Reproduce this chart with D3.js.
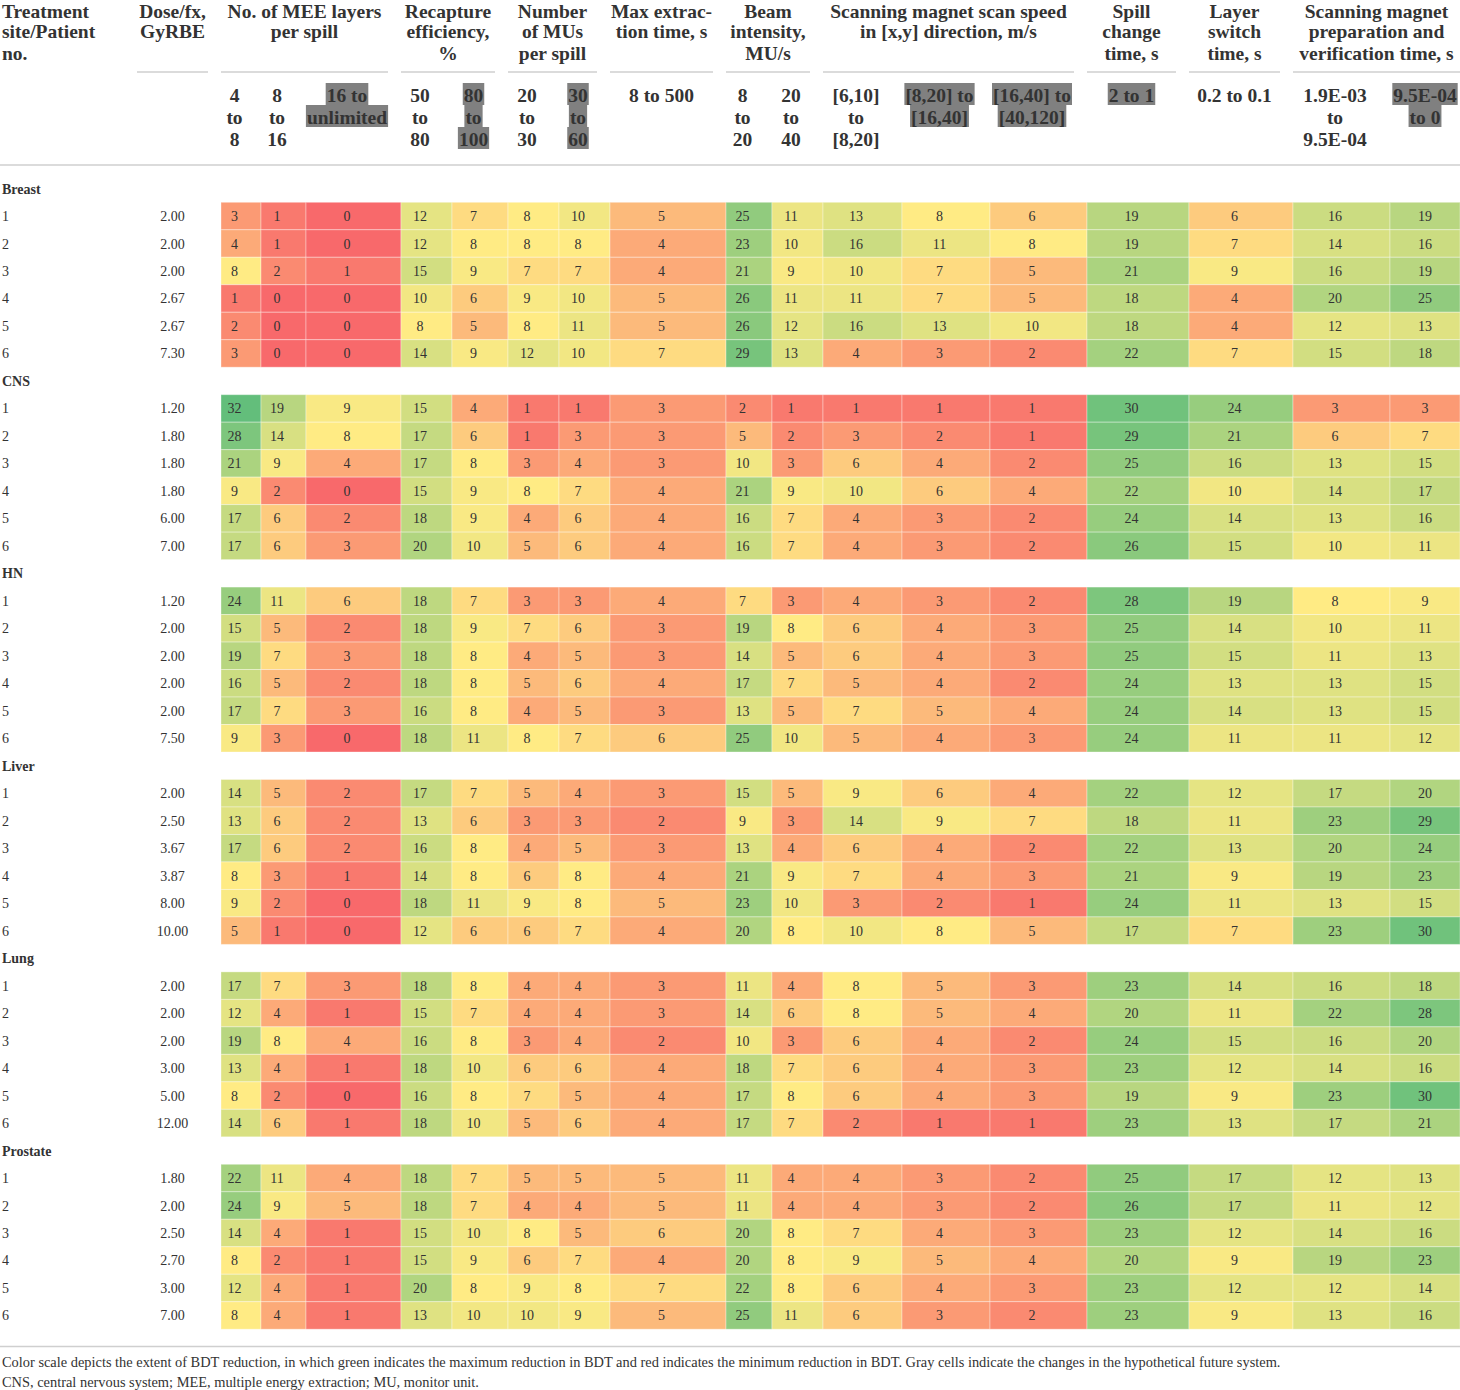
<!DOCTYPE html>
<html>
<head>
<meta charset="utf-8">
<script src="https://cdnjs.cloudflare.com/ajax/libs/d3/7.8.5/d3.min.js"></script>
<style>
body { margin: 0; background: #fff; }
svg text { font-family: "Liberation Serif", "DejaVu Serif", serif; }
</style>
</head>
<body>
<script>
// ---- data ----
const groups = ["Breast", "CNS", "HN", "Liver", "Lung", "Prostate"];
const patients = ["1", "2", "3", "4", "5", "6"];

const colKeys = ["mee1", "mee2", "mee3", "rec1", "rec2", "mu1", "mu2", "ext", "beam1", "beam2",
                 "scan1", "scan2", "scan3", "spill", "layer", "mag1", "mag2"];

const doseBreast   = ["2.00", "2.00", "2.00", "2.67", "2.67", "7.30"];
const doseCNS      = ["1.20", "1.80", "1.80", "1.80", "6.00", "7.00"];
const doseHN       = ["1.20", "2.00", "2.00", "2.00", "2.00", "7.50"];
const doseLiver    = ["2.00", "2.50", "3.67", "3.87", "8.00", "10.00"];
const doseLung     = ["2.00", "2.00", "2.00", "3.00", "5.00", "12.00"];
const doseProstate = ["1.80", "2.00", "2.50", "2.70", "3.00", "7.00"];

const breast = [
  [3, 1, 0, 12, 7, 8, 10, 5, 25, 11, 13, 8, 6, 19, 6, 16, 19],
  [4, 1, 0, 12, 8, 8, 8, 4, 23, 10, 16, 11, 8, 19, 7, 14, 16],
  [8, 2, 1, 15, 9, 7, 7, 4, 21, 9, 10, 7, 5, 21, 9, 16, 19],
  [1, 0, 0, 10, 6, 9, 10, 5, 26, 11, 11, 7, 5, 18, 4, 20, 25],
  [2, 0, 0, 8, 5, 8, 11, 5, 26, 12, 16, 13, 10, 18, 4, 12, 13],
  [3, 0, 0, 14, 9, 12, 10, 7, 29, 13, 4, 3, 2, 22, 7, 15, 18]
];
const cns = [
  [32, 19, 9, 15, 4, 1, 1, 3, 2, 1, 1, 1, 1, 30, 24, 3, 3],
  [28, 14, 8, 17, 6, 1, 3, 3, 5, 2, 3, 2, 1, 29, 21, 6, 7],
  [21, 9, 4, 17, 8, 3, 4, 3, 10, 3, 6, 4, 2, 25, 16, 13, 15],
  [9, 2, 0, 15, 9, 8, 7, 4, 21, 9, 10, 6, 4, 22, 10, 14, 17],
  [17, 6, 2, 18, 9, 4, 6, 4, 16, 7, 4, 3, 2, 24, 14, 13, 16],
  [17, 6, 3, 20, 10, 5, 6, 4, 16, 7, 4, 3, 2, 26, 15, 10, 11]
];
const hn = [
  [24, 11, 6, 18, 7, 3, 3, 4, 7, 3, 4, 3, 2, 28, 19, 8, 9],
  [15, 5, 2, 18, 9, 7, 6, 3, 19, 8, 6, 4, 3, 25, 14, 10, 11],
  [19, 7, 3, 18, 8, 4, 5, 3, 14, 5, 6, 4, 3, 25, 15, 11, 13],
  [16, 5, 2, 18, 8, 5, 6, 4, 17, 7, 5, 4, 2, 24, 13, 13, 15],
  [17, 7, 3, 16, 8, 4, 5, 3, 13, 5, 7, 5, 4, 24, 14, 13, 15],
  [9, 3, 0, 18, 11, 8, 7, 6, 25, 10, 5, 4, 3, 24, 11, 11, 12]
];
const liver = [
  [14, 5, 2, 17, 7, 5, 4, 3, 15, 5, 9, 6, 4, 22, 12, 17, 20],
  [13, 6, 2, 13, 6, 3, 3, 2, 9, 3, 14, 9, 7, 18, 11, 23, 29],
  [17, 6, 2, 16, 8, 4, 5, 3, 13, 4, 6, 4, 2, 22, 13, 20, 24],
  [8, 3, 1, 14, 8, 6, 8, 4, 21, 9, 7, 4, 3, 21, 9, 19, 23],
  [9, 2, 0, 18, 11, 9, 8, 5, 23, 10, 3, 2, 1, 24, 11, 13, 15],
  [5, 1, 0, 12, 6, 6, 7, 4, 20, 8, 10, 8, 5, 17, 7, 23, 30]
];
const lung = [
  [17, 7, 3, 18, 8, 4, 4, 3, 11, 4, 8, 5, 3, 23, 14, 16, 18],
  [12, 4, 1, 15, 7, 4, 4, 3, 14, 6, 8, 5, 4, 20, 11, 22, 28],
  [19, 8, 4, 16, 8, 3, 4, 2, 10, 3, 6, 4, 2, 24, 15, 16, 20],
  [13, 4, 1, 18, 10, 6, 6, 4, 18, 7, 6, 4, 3, 23, 12, 14, 16],
  [8, 2, 0, 16, 8, 7, 5, 4, 17, 8, 6, 4, 3, 19, 9, 23, 30],
  [14, 6, 1, 18, 10, 5, 6, 4, 17, 7, 2, 1, 1, 23, 13, 17, 21]
];
const prostate = [
  [22, 11, 4, 18, 7, 5, 5, 5, 11, 4, 4, 3, 2, 25, 17, 12, 13],
  [24, 9, 5, 18, 7, 4, 4, 5, 11, 4, 4, 3, 2, 26, 17, 11, 12],
  [14, 4, 1, 15, 10, 8, 5, 6, 20, 8, 7, 4, 3, 23, 12, 14, 16],
  [8, 2, 1, 15, 9, 6, 7, 4, 20, 8, 9, 5, 4, 20, 9, 19, 23],
  [12, 4, 1, 20, 8, 9, 8, 7, 22, 8, 6, 4, 3, 23, 12, 12, 14],
  [8, 4, 1, 13, 10, 10, 9, 5, 25, 11, 6, 3, 2, 23, 9, 13, 16]
];

// header texts
const headGroupLines = [
  ["Dose/fx,", "GyRBE"],
  ["No. of MEE layers", "per spill"],
  ["Recapture", "efficiency,", "%"],
  ["Number", "of MUs", "per spill"],
  ["Max extrac-", "tion time, s"],
  ["Beam", "intensity,", "MU/s"],
  ["Scanning magnet scan speed", "in [x,y] direction, m/s"],
  ["Spill", "change", "time, s"],
  ["Layer", "switch", "time, s"],
  ["Scanning magnet", "preparation and", "verification time, s"]
];
const headGroupCols = [
  ["dose"], ["mee1", "mee3"], ["rec1", "rec2"], ["mu1", "mu2"], ["ext"], ["beam1", "beam2"],
  ["scan1", "scan3"], ["spill"], ["layer"], ["mag1", "mag2"]
];
const subLabels = [
  ["4", "to", "8"], ["8", "to", "16"], ["16 to", "unlimited"],
  ["50", "to", "80"], ["80", "to", "100"],
  ["20", "to", "30"], ["30", "to", "60"],
  ["8 to 500"],
  ["8", "to", "20"], ["20", "to", "40"],
  ["[6,10]", "to", "[8,20]"], ["[8,20] to", "[16,40]"], ["[16,40] to", "[40,120]"],
  ["2 to 1"], ["0.2 to 0.1"],
  ["1.9E-03", "to", "9.5E-04"], ["9.5E-04", "to 0"]
];
const subGray = ["mee3", "rec2", "mu2", "scan2", "scan3", "spill", "mag2"];

const footnotes = [
  "Color scale depicts the extent of BDT reduction, in which green indicates the maximum reduction in BDT and red indicates the minimum reduction in BDT. Gray cells indicate the changes in the hypothetical future system.",
  "CNS, central nervous system; MEE, multiple energy extraction; MU, monitor unit."
];

// ---- layout ----
const width = 1460, height = 1390;
const pad = 13;
const edges = [137, 221, 261, 306, 401, 452, 508, 559, 610, 726, 772, 823, 902, 990, 1087, 1189, 1293, 1390, 1460];
const headBase = [17.5, 38, 59.5];
const allCols = ["dose", ...colKeys];
const xLeft = d3.scaleOrdinal(allCols, edges.slice(0, -1));
const xRight = d3.scaleOrdinal(allCols, edges.slice(1));
const padOf = c => c === "mag2" ? 0 : pad;
const xMid = c => (xLeft(c) + xRight(c) - padOf(c)) / 2;

const tables = [breast, cns, hn, liver, lung, prostate];
const doses = [doseBreast, doseCNS, doseHN, doseLiver, doseLung, doseProstate];

const y = d3.scaleBand()
  .domain(d3.range(groups.length * 7))
  .range([174.8, 1329.2]);

const allVals = tables.flat(2);
const color = d3.scaleLinear()
  .domain([d3.min(allVals), d3.median(allVals), d3.max(allVals)])
  .range(["#F8696B", "#FFEB84", "#63BE7B"]);

const svg = d3.select('body')
  .append('svg')
  .attr('width', width)
  .attr('height', height);

// ---- header ----
const hdr = svg.append('g').attr('fill', '#333').attr('font-weight', 'bold').attr('font-size', '19.5px');

["Treatment", "site/Patient", "no."].forEach((t, i) => {
  hdr.append('text').attr('x', 2).attr('y', headBase[i]).text(t);
});

headGroupCols.forEach((cols, gi) => {
  const first = cols[0], last = cols[cols.length - 1];
  const x0 = xLeft(first), x1 = xRight(last) - padOf(last);
  headGroupLines[gi].forEach((t, i) => {
    hdr.append('text')
       .attr('x', (x0 + x1) / 2)
       .attr('y', headBase[i])
       .attr('text-anchor', 'middle')
       .text(t);
  });
  svg.append('line')
     .attr('x1', x0).attr('x2', x1)
     .attr('y1', 72).attr('y2', 72)
     .attr('stroke', '#cfcfcf').attr('stroke-width', 1.5);
});

colKeys.forEach((c, ci) => {
  const gray = subGray.includes(c);
  subLabels[ci].forEach((t, i) => {
    const g = hdr.append('g');
    const txt = g.append('text')
       .attr('x', xMid(c))
       .attr('y', 101.5 + i * 22)
       .attr('text-anchor', 'middle')
       .text(t);
    if (gray) {
      const w = txt.node().getComputedTextLength();
      g.insert('rect', 'text')
       .attr('x', xMid(c) - w / 2 - 1)
       .attr('y', 83 + i * 22)
       .attr('width', w + 2)
       .attr('height', 22)
       .attr('fill', '#808080');
    }
  });
});

svg.append('line')
   .attr('x1', 0).attr('x2', width)
   .attr('y1', 165).attr('y2', 165)
   .attr('stroke', '#cfcfcf').attr('stroke-width', 1.5);

// ---- body ----
const body = svg.append('g').attr('fill', '#333').attr('font-size', '14px');

groups.forEach((gname, gi) => {
  const base = gi * 7;
  body.append('text')
      .attr('x', 2)
      .attr('y', y(base) + y.bandwidth() / 2 + 5)
      .attr('font-weight', 'bold')
      .text(gname);

  tables[gi].forEach((row, ri) => {
    const yi = base + 1 + ri;
    const yc = y(yi) + y.bandwidth() / 2;
    body.append('text').attr('x', 2).attr('y', yc + 5).text(patients[ri]);
    body.append('text')
        .attr('x', xMid('dose'))
        .attr('y', yc + 5)
        .attr('text-anchor', 'middle')
        .text(doses[gi][ri]);

    const cells = body.append('g')
      .selectAll('g')
      .data(row)
      .enter()
      .append('g');
    cells.append('rect')
      .attr('x', (d, i) => xLeft(colKeys[i]))
      .attr('y', y(yi))
      .attr('width', (d, i) => xRight(colKeys[i]) - xLeft(colKeys[i]))
      .attr('height', y.bandwidth())
      .attr('fill', d => color(d))
      .attr('stroke', '#fff')
      .attr('stroke-opacity', 0.35)
      .attr('stroke-width', 1);
    cells.append('text')
      .attr('x', (d, i) => xMid(colKeys[i]))
      .attr('y', yc + 5)
      .attr('text-anchor', 'middle')
      .text(d => d);
  });
});

// ---- footnote ----
svg.append('line')
   .attr('x1', 0).attr('x2', width)
   .attr('y1', 1346.5).attr('y2', 1346.5)
   .attr('stroke', '#cfcfcf').attr('stroke-width', 1.5);

footnotes.forEach((t, i) => {
  svg.append('text')
     .attr('x', 2)
     .attr('y', 1367 + i * 20)
     .attr('font-size', '14.4px')
     .attr('fill', '#333')
     .text(t);
});
</script>
</body>
</html>
